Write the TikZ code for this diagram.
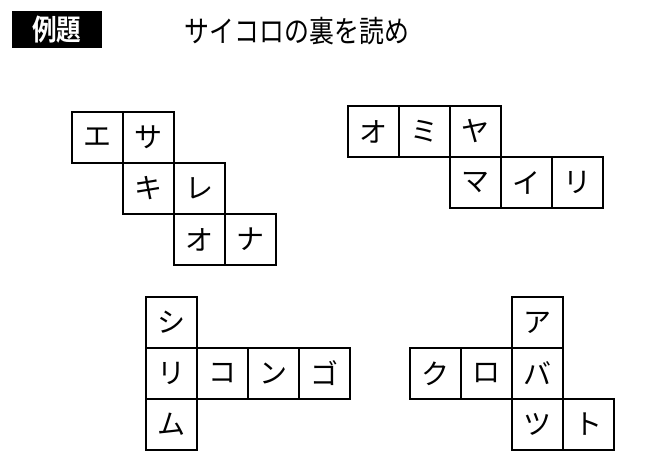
\documentclass[tikz,border=0pt]{standalone}
\usepackage{fontspec}
\usepackage{graphicx}
\newfontfamily\jp{Noto Sans CJK JP}
\newfontfamily\jpbold{Noto Sans CJK JP Bold}
\begin{document}
\begin{tikzpicture}[x=1pt,y=-1pt,
  cell/.style={draw,line width=2.2pt,minimum size=51pt,inner sep=0pt,outer sep=0pt,font=\jp\fontsize{28}{28}\selectfont},
  header/.style={fill=black,text=white,minimum width=90pt,minimum height=37pt,inner sep=0pt,font=\jpbold\fontsize{29}{29}\selectfont},
  title/.style={font=\jp\fontsize{30}{30}\selectfont,inner sep=0pt}]
\useasboundingbox (0,0) rectangle (661,473);
\node[header] (hd) at (57,29.5) {\scalebox{0.85}[1]{例題}};
\node[title] (tt) at (297,31.5) {\scalebox{0.83}[1]{サイコロの裏を読め}};
% net 1 origin (72,112)
\foreach \c/\r/\t [count=\i] in {0/0/エ,1/0/サ,1/1/キ,2/1/レ,2/2/オ,3/2/ナ}
  \node[cell] (a\i) at (72+\c*51+25.5,112+\r*51+25.5) {\t};
% net 2 origin (348,106)
\foreach \c/\r/\t [count=\i] in {0/0/オ,1/0/ミ,2/0/ヤ,2/1/マ,3/1/イ,4/1/リ}
  \node[cell] (b\i) at (348+\c*51+25.5,106+\r*51+25.5) {\t};
% net 3 origin (146,297)
\foreach \c/\r/\t [count=\i] in {0/0/シ,0/1/リ,1/1/コ,2/1/ン,3/1/ゴ,0/2/ム}
  \node[cell] (c\i) at (146+\c*51+25.5,297+\r*51+25.5) {\t};
% net 4 origin (410,297)
\foreach \c/\r/\t [count=\i] in {2/0/ア,0/1/ク,1/1/ロ,2/1/バ,2/2/ツ,3/2/ト}
  \node[cell] (d\i) at (410+\c*51+25.5,297+\r*51+25.5) {\t};
\end{tikzpicture}
\end{document}
